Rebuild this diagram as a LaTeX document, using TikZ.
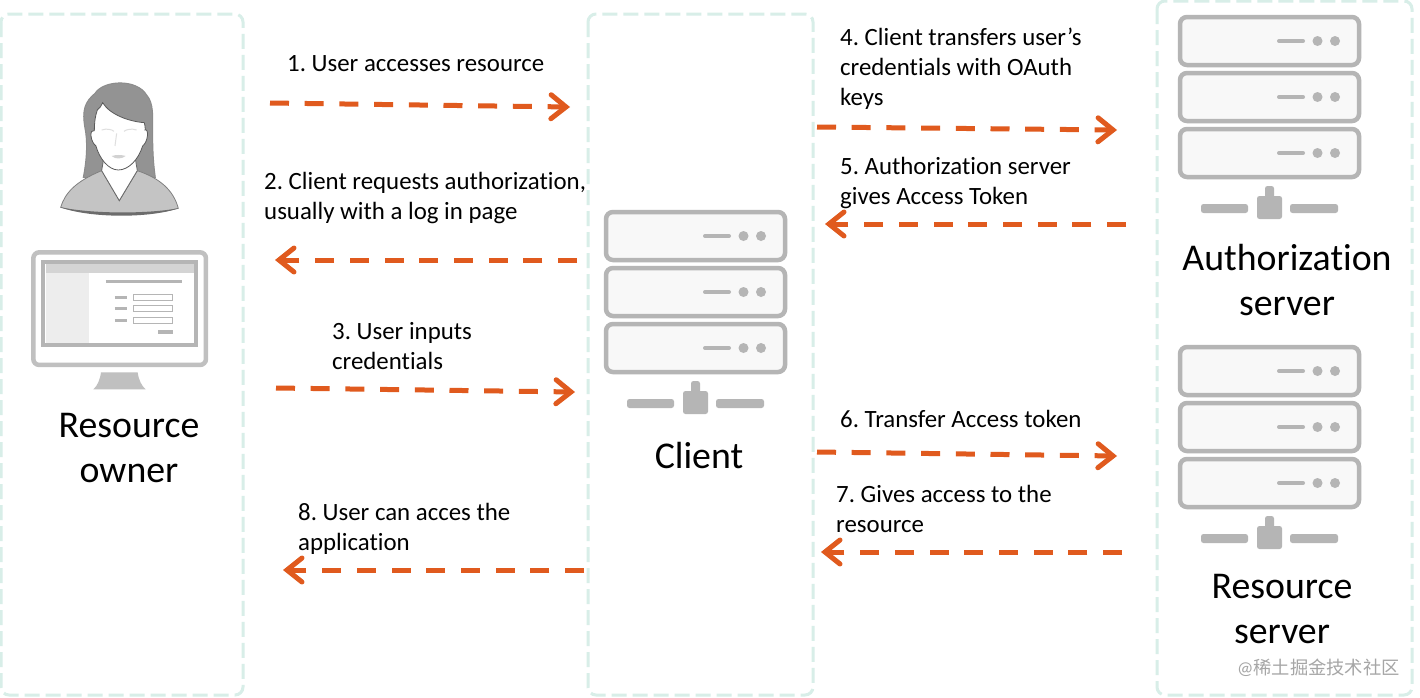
\documentclass[tikz,border=0pt]{standalone}
\usepackage{fontspec}
\setmainfont[Ligatures=NoCommon]{Carlito}
\newfontfamily\cjk{Noto Sans CJK SC}
\usetikzlibrary{arrows.meta}
\definecolor{panelc}{HTML}{D8EEE8}
\definecolor{srv}{HTML}{B5B5B5}
\definecolor{srvfill}{HTML}{F8F8F8}
\definecolor{flow}{HTML}{E05A1E}
\tikzset{
  x=1pt,y=-1pt,
  panel/.style={draw=panelc,line width=3pt,rounded corners=8pt,dash pattern=on 15pt off 6pt,minimum width=0pt},
  flowarrow/.style={draw=flow,line width=5pt,dash pattern=on 19pt off 15.7pt,
    -{Straight Barb[length=15pt,width=24pt,line width=5pt,line cap=round]}},
  steptext/.style={anchor=north west,align=left,inner sep=0pt,font=\fontsize{24.85}{30}\selectfont\frenchspacing},
  biglabel/.style={align=center,inner sep=0pt,anchor=north,font=\fontsize{37.8}{45}\selectfont},
  rack/.style={draw=srv,line width=4.5pt,fill=srvfill,rounded corners=7pt},
  server/.pic={
    \foreach \dy in {0,56,112}{
      \draw[rack] (2,2+\dy) rectangle (181,50+\dy);
      \draw[srv,line width=4pt,line cap=round] (101,26+\dy) -- (125,26+\dy);
      \fill[srv] (139.5,26+\dy) circle (5pt) (157,26+\dy) circle (5pt);
    }
    \fill[srv,rounded corners=2.5pt] (23,189) rectangle (70,198);
    \fill[srv,rounded corners=2.5pt] (112,189) rectangle (160,198);
    \fill[srv,rounded corners=2.5pt] (79,181) rectangle (104,204);
    \fill[srv,rounded corners=2.5pt] (87,171) rectangle (96,185);
  }
}
\begin{document}
\begin{tikzpicture}
\useasboundingbox (0,0) rectangle (1420,697);
\fill[white] (0,0) rectangle (1420,697);
% panels
\draw[panel] (1,14) rectangle (243,695);
\draw[panel] (588,14) rectangle (813,695);
\draw[panel] (1157,1) rectangle (1412,695);
% person and monitor, in units of a third of a pixel
\begin{scope}[x=0.3333pt,y=-0.3333pt,shift={(0,180)}]
  \fill[gray!85!white,draw=gray!90!white,line width=1pt] (250,352) .. controls (262,290) and (262,240) .. (255,205)
     .. controls (245,150) and (255,125) .. (285,100)
     .. controls (310,60) and (410,55) .. (440,105)
     .. controls (462,130) and (458,170) .. (458,220)
     .. controls (458,270) and (460,310) .. (466,352) -- cycle;
  % body
  \fill[srv!80!white,draw=gray,line width=0.8pt] (182,442) .. controls (195,400) and (225,365) .. (305,332)
     -- (358,422) -- (412,332) .. controls (480,355) and (520,390) .. (535,445)
     .. controls (440,470) and (280,470) .. (182,442) -- cycle;
  \fill[gray!85!black] (182,442) .. controls (280,462) and (440,462) .. (535,445)
     .. controls (450,475) and (270,475) .. (182,442) -- cycle;
  % neck
  \fill[white,draw=gray!80!black,line width=0.8pt] (305,332) -- (358,422) -- (412,332) -- (405,290) -- (312,290) -- cycle;
  % face
  \fill[white,draw=gray!70!black,line width=0.8pt] (292,150) .. controls (300,145) and (305,135) .. (308,128)
     .. controls (330,165) and (390,185) .. (433,188)
     .. controls (436,200) and (436,210) .. (435,210)
     .. controls (447,205) and (445,245) .. (428,258)
     .. controls (415,300) and (385,330) .. (355,330)
     .. controls (325,330) and (298,295) .. (288,258)
     .. controls (270,245) and (268,205) .. (283,212)
     .. controls (283,190) and (285,170) .. (292,150) -- cycle;
  \draw[gray!25,line width=1pt] (305,210) .. controls (320,205) and (335,208) .. (342,214);
  \draw[gray!25,line width=1pt] (372,214) .. controls (380,208) and (395,205) .. (410,210);
  \draw[gray!25,line width=1pt] (350,220) -- (345,258);
  \fill[gray!35] (335,288) .. controls (350,284) and (362,284) .. (377,288) .. controls (365,298) and (345,298) .. (335,288) -- cycle;
  % monitor
  \draw[srv!85!white,line width=4.5pt,fill=white,rounded corners=6pt] (100,577) rectangle (618,915);
  \fill[black!7] (138,640) rectangle (268,848);
  \fill[black!17] (138,612) rectangle (582,640);
  \draw[srv,line width=4pt] (130,606) rectangle (588,854);
  \draw[srv,line width=2.5pt] (318,665) -- (546,665);
  \foreach \yy in {712,746,781}{
    \draw[srv,line width=3pt] (345,\yy) -- (381,\yy);
    \draw[srv,line width=1.6pt] (401,\yy-9) rectangle (518,\yy+9);
  }
  \fill[srv] (474,810) rectangle (519,822);
  \fill[srv!85!white] (303,937) -- (413,937) .. controls (416,960) and (425,978) .. (437,988) -- (280,988) .. controls (292,978) and (300,960) .. (303,937) -- cycle;
\end{scope}
% servers
\pic at (604,210) {server};
\pic at (1178,15) {server};
\pic at (1178,345) {server};
% big labels
\node[biglabel] (owner) at (129,413) {Resource\\owner};
\node[biglabel] (client) at (699,442) {Client};
\node[biglabel] (authsrv) at (1287,244) {Authorization\\server};
\node[biglabel] (ressrv) at (1282,574) {Resource\\server};
% step labels
\node[steptext] (t1) at (287,55) {1. User accesses resource};
\node[steptext] (t2) at (264,172) {2. Client requests authorization,\\usually with a log in page};
\node[steptext] (t3) at (332,322) {3. User inputs\\credentials};
\node[steptext] (t4) at (840,28) {4. Client transfers user’s\\credentials with OAuth\\keys};
\node[steptext] (t5) at (840,157) {5. Authorization server\\gives Access Token};
\node[steptext] (t6) at (840,410) {6. Transfer Access token};
\node[steptext] (t7) at (836,485) {7. Gives access to the\\resource};
\node[steptext] (t8) at (298,503) {8. User can acces the\\application};
% connector ends
\coordinate (a1s) at (270,103); \coordinate (a1e) at (570,107);
\coordinate (a2s) at (577,260); \coordinate (a2e) at (275,260);
\coordinate (a3s) at (276,388); \coordinate (a3e) at (575,392);
\coordinate (a4s) at (817,127); \coordinate (a4e) at (1117,130);
\coordinate (a5s) at (1126,224); \coordinate (a5e) at (825,224);
\coordinate (a6s) at (817,452); \coordinate (a6e) at (1117,456);
\coordinate (a7s) at (1122,552); \coordinate (a7e) at (821,552);
\coordinate (a8s) at (584,570); \coordinate (a8e) at (283,570);
\foreach \n in {1,...,8}{\draw[flowarrow] (a\n s) -- (a\n e);}
% watermark
\node[anchor=base east,inner sep=0pt,text=black!35,font=\fontsize{18.3}{19}\selectfont] (mark) at (1400,674) {@{\cjk 稀土掘金技术社区}};
\end{tikzpicture}
\end{document}
